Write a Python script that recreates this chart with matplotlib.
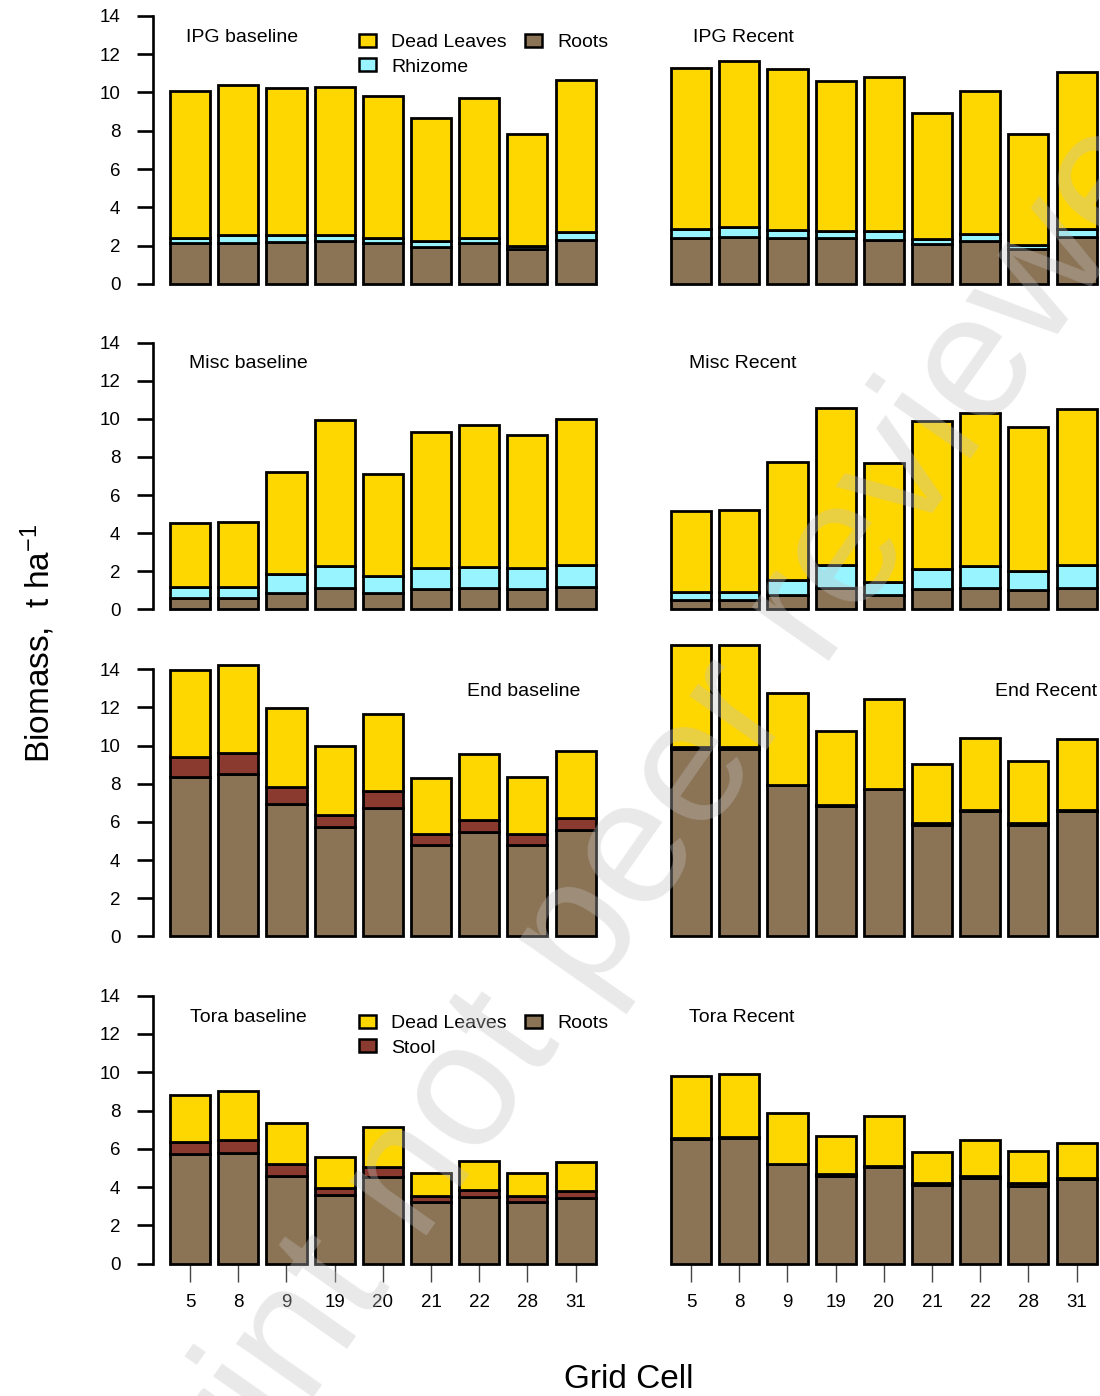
import matplotlib
matplotlib.use("Agg")
import matplotlib.pyplot as plt
from matplotlib.patches import Patch
import numpy as np

plt.rcParams["font.family"] = ["Liberation Sans", "DejaVu Sans"]
plt.rcParams["mathtext.fontset"] = "custom"
plt.rcParams["mathtext.rm"] = "Liberation Sans"
plt.rcParams["mathtext.it"] = "Liberation Sans:italic"

# ---------------------------------------------------------------- data (t/ha)
grid_cells = ["5", "8", "9", "19", "20", "21", "22", "28", "31"]

ipg_base_roots = [2.12, 2.12, 2.17, 2.26, 2.12, 1.95, 2.12, 1.81, 2.30]
ipg_base_rhizome = [0.30, 0.42, 0.37, 0.30, 0.30, 0.31, 0.30, 0.17, 0.40]
ipg_base_dead = [7.67, 7.84, 7.67, 7.70, 7.39, 6.42, 7.27, 5.86, 7.94]

ipg_rec_roots = [2.40, 2.43, 2.40, 2.40, 2.31, 2.07, 2.26, 1.83, 2.43]
ipg_rec_rhizome = [0.49, 0.53, 0.42, 0.35, 0.47, 0.30, 0.35, 0.22, 0.42]
ipg_rec_dead = [8.40, 8.66, 8.40, 7.84, 8.00, 6.55, 7.48, 5.79, 8.19]

misc_base_roots = [0.61, 0.61, 0.88, 1.14, 0.88, 1.07, 1.14, 1.07, 1.19]
misc_base_rhizome = [0.58, 0.58, 0.96, 1.15, 0.89, 1.08, 1.07, 1.08, 1.16]
misc_base_dead = [3.33, 3.40, 5.35, 7.63, 5.32, 7.18, 7.49, 6.99, 7.63]

misc_rec_roots = [0.49, 0.49, 0.74, 1.14, 0.75, 1.09, 1.14, 1.02, 1.14]
misc_rec_rhizome = [0.44, 0.44, 0.78, 1.19, 0.70, 1.01, 1.14, 1.01, 1.21]
misc_rec_dead = [4.23, 4.30, 6.20, 8.22, 6.22, 7.77, 8.03, 7.56, 8.19]

end_base_roots = [8.34, 8.52, 6.94, 5.72, 6.71, 4.79, 5.45, 4.79, 5.58]
end_base_stool = [1.08, 1.10, 0.91, 0.64, 0.93, 0.56, 0.65, 0.56, 0.64]
end_base_dead = [4.55, 4.61, 4.14, 3.64, 4.02, 2.94, 3.46, 2.99, 3.52]

end_rec_roots = [9.80, 9.84, 7.92, 6.85, 7.71, 5.86, 6.59, 5.86, 6.59]
end_rec_stool = [0.10, 0.10, 0.03, 0.03, 0.03, 0.10, 0.03, 0.10, 0.03]
end_rec_dead = [5.36, 5.36, 4.83, 3.91, 4.71, 3.08, 3.78, 3.22, 3.71]

tora_base_roots = [5.71, 5.76, 4.60, 3.59, 4.54, 3.20, 3.50, 3.20, 3.45]
tora_base_stool = [0.66, 0.68, 0.59, 0.36, 0.51, 0.32, 0.33, 0.32, 0.36]
tora_base_dead = [2.42, 2.56, 2.14, 1.62, 2.11, 1.20, 1.53, 1.20, 1.48]

tora_rec_roots = [6.49, 6.56, 5.19, 4.60, 5.07, 4.11, 4.49, 4.07, 4.41]
tora_rec_stool = [0.08, 0.08, 0.04, 0.08, 0.04, 0.08, 0.08, 0.15, 0.08]
tora_rec_dead = [3.25, 3.25, 2.62, 1.97, 2.62, 1.63, 1.87, 1.67, 1.83]

# ---------------------------------------------------------------- styling
C_DEAD = "#FFD700"
C_RHIZ = "#98F5FF"
C_ROOT = "#8B7355"
C_STOOL = "#8B3A2F"

W, H, DPI = 1100, 1396, 100
fig = plt.figure(figsize=(W / DPI, H / DPI), dpi=DPI)


def fx(px):
    return px / W


def fy(py):
    return 1 - py / H


# bar geometry in the style of R's barplot (width 1, space 0.2)
n = len(grid_cells)
centers = 0.7 + 1.2 * np.arange(n)
XLIM = (0.2 - 0.424, 10.8 + 0.424)
YLIM = (-0.56, 14.56)

col_left = [153.0, 654.0]
col_width = 459.7
row_y0 = [284.0, 609.3, 936.3, 1263.7]   # pixel row of value 0
row_y14 = [15.7, 342.7, 669.3, 995.7]    # pixel row of value 14


def make_ax(row, col):
    y0, y14 = row_y0[row], row_y14[row]
    span = y0 - y14
    top = y14 - 0.04 * span
    bot = y0 + 0.04 * span
    ax = fig.add_axes([fx(col_left[col]), fy(bot), fx(col_width), (bot - top) / H])
    ax.set_xlim(*XLIM)
    ax.set_ylim(*YLIM)
    ax.patch.set_visible(False)
    for s in ("top", "right"):
        ax.spines[s].set_visible(False)
    # grid-cell ticks hang from the zero line; the line itself is not drawn
    ax.spines["bottom"].set_position(("data", 0))
    ax.spines["bottom"].set_color("none")
    if col == 0:
        ax.spines["left"].set_bounds(0, 14)
        ax.spines["left"].set_linewidth(1.9)
        ax.set_yticks(np.arange(0, 15, 2))
        ax.tick_params(axis="y", length=11.5, width=1.9, pad=12, labelsize=13.5)
    else:
        ax.spines["left"].set_visible(False)
        ax.set_yticks([])
    if row == 3:
        ax.set_xticks(centers)
        ax.set_xticklabels(grid_cells)
        ax.tick_params(axis="x", length=13, width=1.0, color="#444444",
                       pad=9, labelsize=13.5)
    else:
        ax.set_xticks([])
    return ax


def stack(ax, layers):
    bottom = np.zeros(n)
    for vals, color in layers:
        v = np.asarray(vals)
        ax.bar(centers, v, width=1.0, bottom=bottom, color=color,
               edgecolor="black", linewidth=2.0, clip_on=False, zorder=2)
        bottom = bottom + v


panels = [
    (0, 0, "IPG baseline", [(ipg_base_roots, C_ROOT), (ipg_base_rhizome, C_RHIZ), (ipg_base_dead, C_DEAD)]),
    (0, 1, "IPG Recent", [(ipg_rec_roots, C_ROOT), (ipg_rec_rhizome, C_RHIZ), (ipg_rec_dead, C_DEAD)]),
    (1, 0, "Misc baseline", [(misc_base_roots, C_ROOT), (misc_base_rhizome, C_RHIZ), (misc_base_dead, C_DEAD)]),
    (1, 1, "Misc Recent", [(misc_rec_roots, C_ROOT), (misc_rec_rhizome, C_RHIZ), (misc_rec_dead, C_DEAD)]),
    (2, 0, "End baseline", [(end_base_roots, C_ROOT), (end_base_stool, C_STOOL), (end_base_dead, C_DEAD)]),
    (2, 1, "End Recent", [(end_rec_roots, C_ROOT), (end_rec_stool, C_STOOL), (end_rec_dead, C_DEAD)]),
    (3, 0, "Tora baseline", [(tora_base_roots, C_ROOT), (tora_base_stool, C_STOOL), (tora_base_dead, C_DEAD)]),
    (3, 1, "Tora Recent", [(tora_rec_roots, C_ROOT), (tora_rec_stool, C_STOOL), (tora_rec_dead, C_DEAD)]),
]

# panel label anchor (pixels): x, y centre, horizontal alignment
label_pos = {
    "IPG baseline": (186, 38, "left"),
    "IPG Recent": (693, 38, "left"),
    "Misc baseline": (189, 364, "left"),
    "Misc Recent": (689, 364, "left"),
    "End baseline": (580, 692, "right"),
    "End Recent": (1097, 692, "right"),
    "Tora baseline": (190, 1018, "left"),
    "Tora Recent": (689, 1018, "left"),
}

for row, col, name, layers in panels:
    ax = make_ax(row, col)
    stack(ax, layers)
    px, py, ha = label_pos[name]
    fig.text(fx(px), fy(py), name, ha=ha, va="center", fontsize=14)


def add_legend(labels, colors, left_px, top_px):
    handles = [Patch(facecolor=c, edgecolor="black", linewidth=1.8) for c in colors]
    fig.legend(handles, labels, ncol=2, frameon=False, fontsize=14,
               loc="upper left", bbox_to_anchor=(fx(left_px), fy(top_px)),
               bbox_transform=fig.transFigure, borderpad=0, borderaxespad=0,
               handlelength=0.85, handleheight=0.65, handletextpad=0.8,
               columnspacing=0.95, labelspacing=0.36)


add_legend(["Dead Leaves", "Rhizome", "Roots"], [C_DEAD, C_RHIZ, C_ROOT], 359, 34)
add_legend(["Dead Leaves", "Stool", "Roots"], [C_DEAD, C_STOOL, C_ROOT], 359, 1015)

fig.text(fx(38), fy(643), "Biomass,  t ha$^{-1}$", rotation=90,
         ha="center", va="center", fontsize=24)
fig.text(fx(629), fy(1380), "Grid Cell", ha="center", va="center", fontsize=24)

fig.text(fx(595), fy(915), "Preprint not peer reviewed", rotation=55,
         rotation_mode="anchor", ha="center", va="center", fontsize=128,
         color="#c0c0c0", alpha=0.35, zorder=100)

fig.savefig("out.png", dpi=DPI)
